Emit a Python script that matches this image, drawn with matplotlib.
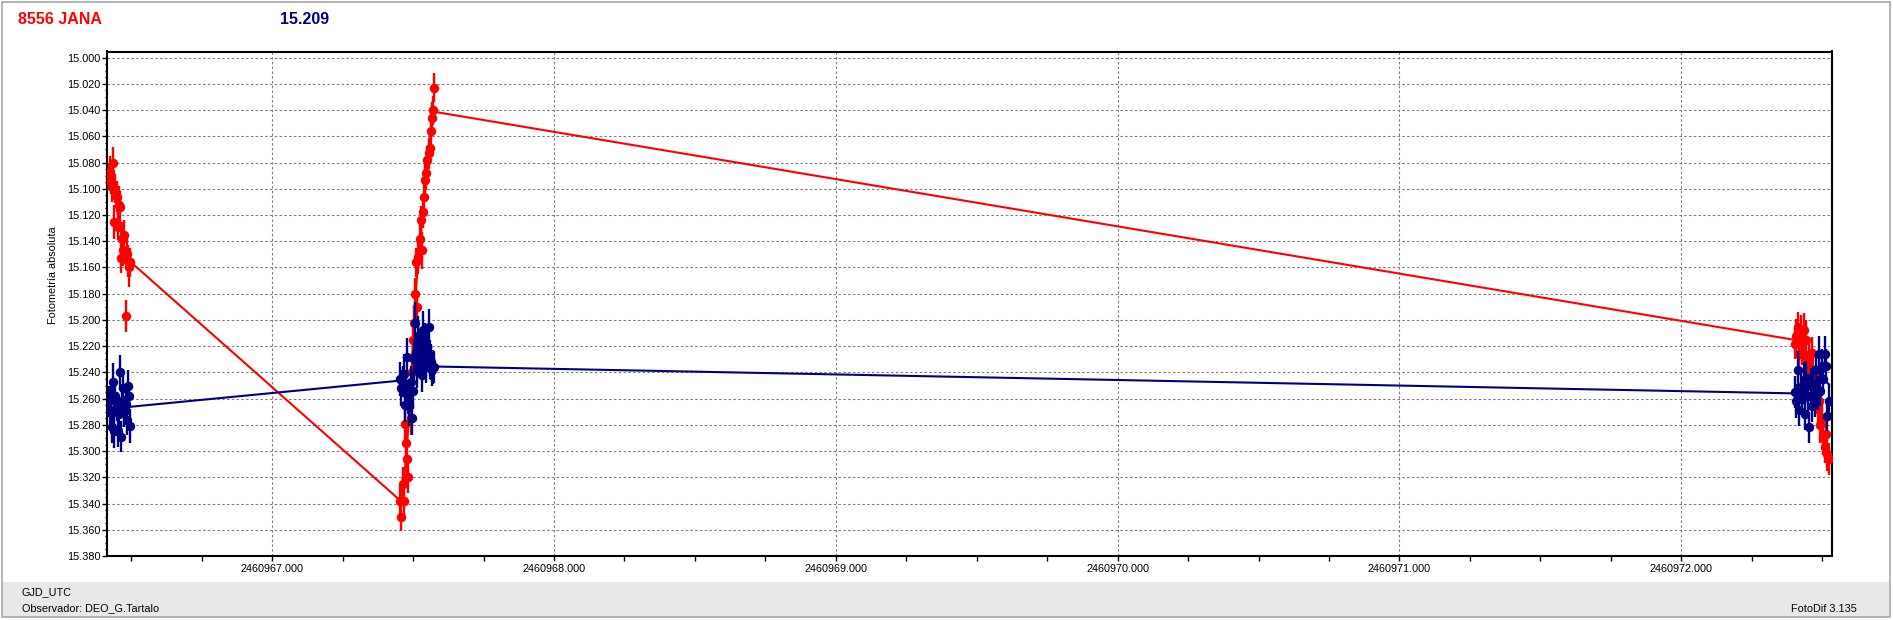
import matplotlib
matplotlib.use('Agg')
import matplotlib.pyplot as plt
from matplotlib.ticker import MultipleLocator, FormatStrFormatter, FixedLocator
from matplotlib.patches import Rectangle
import pandas as pd

plt.rcParams['font.family'] = ['Liberation Sans', 'DejaVu Sans']

# ---------------- data ----------------
title_name = "8556 JANA"
title_value = "15.209"
y_label = "Fotometría absoluta"
x_name = "GJD_UTC"
observer = "Observador: DEO_G.Tartalo"
software = "FotoDif 3.135"

JD0 = 2460966.0
x_ticks = [2460967.0, 2460968.0, 2460969.0, 2460970.0, 2460971.0, 2460972.0]
y_ticks = [15.000, 15.020, 15.040, 15.060, 15.080, 15.100, 15.120, 15.140, 15.160, 15.180,
           15.200, 15.220, 15.240, 15.260, 15.280, 15.300, 15.320, 15.340, 15.360, 15.380]

# cluster 1 (times relative to JD0)
t_c1 = [0.420, 0.424, 0.428, 0.432, 0.436, 0.440, 0.444, 0.448, 0.452, 0.456,
        0.460, 0.464, 0.468, 0.472, 0.476, 0.480, 0.484, 0.488, 0.492, 0.495]
red_c1 = [15.090, 15.087, 15.095, 15.099, 15.080, 15.125, 15.100, 15.106, 15.129, 15.112,
          15.114, 15.153, 15.138, 15.147, 15.135, 15.197, 15.150, 15.155, 15.160, 15.156]
red_e1 = [0.010, 0.012, 0.009, 0.011, 0.012, 0.013, 0.011, 0.012, 0.010, 0.014,
          0.012, 0.011, 0.013, 0.012, 0.011, 0.012, 0.013, 0.012, 0.015, 0.011]
blue_c1 = [15.262, 15.270, 15.261, 15.282, 15.247, 15.285, 15.258, 15.266, 15.285, 15.272,
           15.240, 15.289, 15.262, 15.252, 15.270, 15.264, 15.276, 15.250, 15.258, 15.281]
blue_e1 = [0.012, 0.013, 0.011, 0.012, 0.014, 0.013, 0.012, 0.011, 0.012, 0.013,
           0.013, 0.012, 0.011, 0.014, 0.012, 0.013, 0.012, 0.012, 0.011, 0.013]

# cluster 2
t_c2 = [1.455, 1.459, 1.463, 1.467, 1.471, 1.475, 1.479, 1.483, 1.487, 1.491,
        1.495, 1.499, 1.503, 1.507, 1.511, 1.515, 1.519, 1.523, 1.527, 1.531,
        1.535, 1.539, 1.543, 1.547, 1.551, 1.555, 1.559, 1.563, 1.567, 1.571, 1.575]
red_c2 = [15.338, 15.350, 15.325, 15.338, 15.279, 15.294, 15.306, 15.320, 15.256, 15.275,
          15.240, 15.215, 15.2025, 15.180, 15.156, 15.190, 15.152, 15.138, 15.124, 15.147,
          15.118, 15.106, 15.093, 15.088, 15.078, 15.073, 15.069, 15.056, 15.046, 15.040, 15.023]
red_e2 = [0.012, 0.011, 0.013, 0.012, 0.014, 0.012, 0.013, 0.012, 0.011, 0.013,
          0.014, 0.012, 0.013, 0.012, 0.011, 0.012, 0.013, 0.012, 0.011, 0.014,
          0.012, 0.011, 0.012, 0.013, 0.011, 0.012, 0.012, 0.013, 0.012, 0.011, 0.011]
blue_c2 = [15.245, 15.252, 15.247, 15.241, 15.265, 15.256, 15.228, 15.259, 15.266, 15.247,
           15.275, 15.254, 15.230, 15.202, 15.225, 15.238, 15.212, 15.232, 15.219, 15.242,
           15.208, 15.226, 15.215, 15.236, 15.221, 15.205, 15.230, 15.232, 15.238, 15.236, 15.236]
blue_e2 = [0.013, 0.014, 0.012, 0.015, 0.013, 0.012, 0.014, 0.013, 0.015, 0.012,
           0.013, 0.014, 0.015, 0.016, 0.013, 0.014, 0.015, 0.012, 0.014, 0.013,
           0.015, 0.014, 0.013, 0.012, 0.014, 0.013, 0.015, 0.014, 0.012, 0.013, 0.012]

# cluster 3
t_c3 = [6.404, 6.409, 6.414, 6.419, 6.424, 6.429, 6.434, 6.439, 6.444, 6.449,
        6.454, 6.459, 6.464, 6.469, 6.474, 6.479, 6.484, 6.489, 6.494, 6.499,
        6.504, 6.509, 6.514, 6.519, 6.524]
red_c3 = [15.218, 15.212, 15.205, 15.226, 15.210, 15.222, 15.208, 15.230, 15.215, 15.236,
          15.228, 15.240, 15.225, 15.238, 15.252, 15.245, 15.268, 15.262, 15.280, 15.275,
          15.290, 15.297, 15.287, 15.302, 15.306]
red_e3 = [0.012, 0.013, 0.011, 0.012, 0.014, 0.012, 0.013, 0.012, 0.015, 0.012,
          0.013, 0.014, 0.012, 0.013, 0.012, 0.011, 0.013, 0.012, 0.014, 0.012,
          0.013, 0.012, 0.011, 0.013, 0.012]
blue_c3 = [15.255, 15.262, 15.238, 15.269, 15.251, 15.260, 15.247, 15.272, 15.244, 15.258,
           15.282, 15.250, 15.266, 15.249, 15.261, 15.238, 15.256, 15.226, 15.254, 15.235,
           15.245, 15.226, 15.235, 15.273, 15.262]
blue_e3 = [0.012, 0.013, 0.014, 0.012, 0.013, 0.012, 0.015, 0.012, 0.013, 0.014,
           0.012, 0.013, 0.012, 0.014, 0.013, 0.012, 0.013, 0.014, 0.012, 0.013,
           0.012, 0.014, 0.013, 0.012, 0.013]

RED = '#FF0000'
BLUE = '#000080'

# ---------------- build table ----------------
frames = []
for k, (t, r, re, b, be) in enumerate([(t_c1, red_c1, red_e1, blue_c1, blue_e1),
                                       (t_c2, red_c2, red_e2, blue_c2, blue_e2),
                                       (t_c3, red_c3, red_e3, blue_c3, blue_e3)]):
    frames.append(pd.DataFrame({'cluster': k, 't': [JD0 + v for v in t],
                                'red': r, 'red_err': re, 'blue': b, 'blue_err': be}))
df = pd.concat(frames, ignore_index=True)
for col in ['red', 'blue']:
    df[col + '_ma'] = df.groupby('cluster')[col].transform(
        lambda s: s.rolling(7, center=True, min_periods=1).mean())

# ---------------- figure ----------------
W, H = 1893, 620
fig = plt.figure(figsize=(W / 100, H / 100), dpi=100)
fig.patch.set_facecolor('white')

# bottom status band and outer frame
fig.patches.append(Rectangle((3 / W, 1 - 617 / H), (1889 - 3) / W, (617 - 582) / H,
                             transform=fig.transFigure, facecolor='#E8E8E8',
                             edgecolor='none', zorder=0))
fig.patches.append(Rectangle((1.5 / W, 1 - 617 / H), (1890 - 1.5) / W, (617 - 1.5) / H,
                             transform=fig.transFigure, facecolor='none',
                             edgecolor='#A0A0A0', linewidth=1.1, zorder=1))

ax = fig.add_axes([107 / W, 1 - 556 / H, (1832 - 107) / W, (556 - 51.5) / H])
ax.set_xlim(2460966.414, 2460972.535)
ax.set_ylim(15.380, 14.9953)

ax.xaxis.set_major_locator(FixedLocator(x_ticks))
ax.xaxis.set_major_formatter(FormatStrFormatter('%.3f'))
ax.xaxis.set_minor_locator(MultipleLocator(0.25))
ax.yaxis.set_major_locator(FixedLocator(y_ticks))
ax.yaxis.set_major_formatter(FormatStrFormatter('%.3f'))
ax.yaxis.set_minor_locator(MultipleLocator(0.005))

ax.tick_params(axis='both', which='major', labelsize=7.8, length=3.6, width=1,
               direction='out', color='black', pad=2)
ax.tick_params(axis='x', which='minor', length=3.6, width=1, direction='out')
ax.tick_params(axis='y', which='minor', length=1.5, width=1, direction='out')
ax.tick_params(axis='y', which='major', pad=1)

ax.grid(True, which='major', color='#808080', linestyle=(0, (2.3, 2.0)), linewidth=0.8)
ax.set_axisbelow(True)
for sp in ax.spines.values():
    sp.set_linewidth(1.5)
    sp.set_color('black')

# red series
ax.plot(df['t'], df['red_ma'], color=RED, linewidth=1.5, zorder=2)
ax.errorbar(df['t'], df['red'], yerr=df['red_err'], fmt='o', color=RED, ms=5.8,
            elinewidth=1.7, capsize=0, zorder=3)
# blue series
ax.plot(df['t'], df['blue_ma'], color=BLUE, linewidth=1.5, zorder=4)
ax.errorbar(df['t'], df['blue'], yerr=df['blue_err'], fmt='o', color=BLUE, ms=5.8,
            elinewidth=1.7, capsize=0, zorder=5)

# texts
fig.text(18 / W, 1 - 19.5 / H, title_name, color=RED, fontsize=11.5, fontweight='bold',
         ha='left', va='center')
fig.text(280 / W, 1 - 19.5 / H, title_value, color=BLUE, fontsize=11.5, fontweight='bold',
         ha='left', va='center')
fig.text(53 / W, 1 - 275 / H, y_label, rotation=90, fontsize=7.8, ha='center', va='center')
fig.text(22 / W, 1 - 592 / H, x_name, fontsize=7.8, ha='left', va='center')
fig.text(22 / W, 1 - 608.5 / H, observer, fontsize=7.8, ha='left', va='center')
fig.text(1857 / W, 1 - 608.5 / H, software, fontsize=7.8, ha='right', va='center')

fig.savefig('out.png', dpi=100)
